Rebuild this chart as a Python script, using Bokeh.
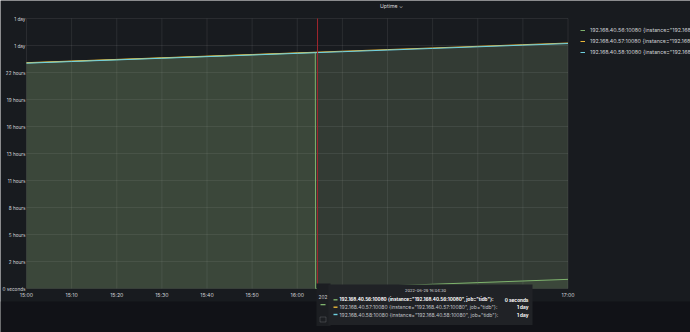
from datetime import datetime
from bokeh.plotting import figure
from bokeh.models import (Range1d, FixedTicker, BoxAnnotation, Label,
                          Legend, LegendItem, ColumnDataSource)
from bokeh.embed import file_html
from bokeh.resources import INLINE

# ---------------- data ----------------
times_full = ["15:00:00", "15:10:00", "15:20:00", "15:30:00", "15:40:00", "15:50:00",
              "16:00:00", "16:10:00", "16:20:00", "16:30:00", "16:40:00", "16:50:00", "17:00:00"]
times_56 = ["15:00:00", "15:10:00", "15:20:00", "15:30:00", "15:40:00", "15:50:00",
            "16:00:00", "16:04:00", "16:04:05", "16:10:00", "16:20:00", "16:30:00",
            "16:40:00", "16:50:00", "17:00:00"]
uptime_56 = [82700, 83300, 83900, 84500, 85100, 85700, 86300, 86540, 0,
             355, 955, 1555, 2155, 2755, 3355]
uptime_57 = [82800, 83400, 84000, 84600, 85200, 85800, 86400, 87000, 87600,
             88200, 88800, 89400, 90000]
uptime_58 = [82620, 83220, 83820, 84420, 85020, 85620, 86220, 86820, 87420,
             88020, 88620, 89220, 89820]

series_names = [
    '192.168.40.56:10080 {instance="192.168.40.56:10080", job="tidb"}',
    '192.168.40.57:10080 {instance="192.168.40.57:10080", job="tidb"}',
    '192.168.40.58:10080 {instance="192.168.40.58:10080", job="tidb"}',
]
series_colors = ["#7EB26D", "#EAB839", "#6ED0E0"]

y_tick_values = [0, 9900, 19800, 29700, 39600, 49500, 59400, 69300, 79200, 89100, 99000]
y_tick_labels = ["0 seconds", "2 hours", "5 hours", "8 hours", "11 hours", "13 hours",
                 "16 hours", "19 hours", "22 hours", "1 day", "1 day"]
x_tick_times = ["15:00:00", "15:10:00", "15:20:00", "15:30:00", "15:40:00", "15:50:00",
                "16:00:00", "16:10:00", "16:20:00", "16:30:00", "16:40:00", "16:50:00", "17:00:00"]
x_tick_labels = ["15:00", "15:10", "15:20", "15:30", "15:40", "15:50", "16:00",
                 "16:10", "16:20", "16:30", "16:40", "16:50", "17:00"]

hover_time = "16:04:30"
tooltip_title = "2022-06-29 16:04:30"
tooltip_values = ["0 seconds", "1 day", "1 day"]
panel_title = "Uptime \u2304"

EPOCH = datetime(1970, 1, 1)


def ms(t):
    d = datetime.strptime("2022-06-29 " + t, "%Y-%m-%d %H:%M:%S")
    return (d - EPOCH).total_seconds() * 1000.0


# ---------------- layout (pixels of the 690x332 panel) ----------------
W, H = 690, 332
PX_LEFT, PX_RIGHT = 26, 567.5      # where 15:00 and 17:00 sit
PX_TOP, PX_BOTTOM = 18, 288        # where the top and bottom y ticks sit

x0, x1 = ms(x_tick_times[0]), ms(x_tick_times[-1])
y0, y1 = y_tick_values[0], y_tick_values[-1]
xpp = (x1 - x0) / (PX_RIGHT - PX_LEFT)
ypp = (y1 - y0) / (PX_BOTTOM - PX_TOP)

PANEL = "#181b1f"
PAGE = "#111217"
TEXT = "#d2d3d8"
FONT = "Inter"

p = figure(width=W, height=H, x_axis_type="datetime",
           output_backend="svg", toolbar_location=None,
           x_range=Range1d(x0 - PX_LEFT * xpp, x1 + (W - PX_RIGHT) * xpp),
           y_range=Range1d(y0 - (H - PX_BOTTOM) * ypp, y1 + PX_TOP * ypp),
           min_border=0)
p.title.visible = False
p.background_fill_color = PANEL
p.border_fill_color = PANEL
p.outline_line_color = None
p.xgrid.visible = False
p.ygrid.visible = False

# axes pinned to the data edges
p.xaxis.fixed_location = y0
p.yaxis.fixed_location = x0
p.xaxis.ticker = FixedTicker(ticks=[ms(t) for t in x_tick_times])
p.xaxis.major_label_overrides = {ms(t): l for t, l in zip(x_tick_times, x_tick_labels)}
p.yaxis.ticker = FixedTicker(ticks=y_tick_values)
p.yaxis.major_label_overrides = {v: l for v, l in zip(y_tick_values, y_tick_labels)}
for ax in (p.xaxis[0], p.yaxis[0]):
    ax.axis_line_color = None
    ax.major_tick_line_color = None
    ax.minor_tick_line_color = None
    ax.major_tick_out = 0
    ax.major_tick_in = 0
    ax.minor_tick_out = 0
    ax.major_label_text_color = TEXT
    ax.major_label_text_font = FONT
p.xaxis.major_label_text_font_size = "5.2px"
p.yaxis.major_label_text_font_size = "4.7px"
p.xaxis.major_label_standoff = 3
p.yaxis.major_label_standoff = 1

# grid lines within the data area
gx = [ms(t) for t in x_tick_times]
p.segment(x0=gx, x1=gx, y0=[y0] * len(gx), y1=[y1] * len(gx),
          line_color="#ffffff", line_alpha=0.08, line_width=1)
p.segment(x0=[x0] * len(y_tick_values), x1=[x1] * len(y_tick_values),
          y0=y_tick_values, y1=y_tick_values,
          line_color="#ffffff", line_alpha=0.08, line_width=1)

# series
sources = [
    ColumnDataSource(dict(x=[ms(t) for t in times_56], y=uptime_56, z=[0] * len(uptime_56))),
    ColumnDataSource(dict(x=[ms(t) for t in times_full], y=uptime_57, z=[0] * len(uptime_57))),
    ColumnDataSource(dict(x=[ms(t) for t in times_full], y=uptime_58, z=[0] * len(uptime_58))),
]
for src, col in zip(sources, series_colors):
    p.varea(x="x", y1="z", y2="y", source=src, fill_color=col, fill_alpha=0.1)
line_renderers = []
for src, col in zip(sources, series_colors):
    line_renderers.append(p.line(x="x", y="y", source=src, line_color=col, line_width=1))

# hover crosshair
p.segment(x0=[ms(hover_time)], x1=[ms(hover_time)], y0=[y0], y1=[y1],
          line_color="#a3262e", line_width=1)

# legend (right side)
legend = Legend(items=[LegendItem(label=n, renderers=[r]) for n, r in zip(series_names, line_renderers)],
                location=(580, 277), orientation="vertical",
                background_fill_alpha=0, border_line_color=None,
                padding=0, margin=0, spacing=5,
                glyph_width=5, glyph_height=6, label_height=6, label_standoff=5,
                label_text_font=FONT, label_text_font_size="5.3px", label_text_color=TEXT)
p.add_layout(legend, "center")

# panel title
p.add_layout(Label(x=391, y=5, x_units="canvas", y_units="canvas", text=panel_title,
                   text_align="center", text_baseline="middle", text_font=FONT,
                   text_font_size="5.2px", text_color="#d8d9da"))

# page background below the panel
p.add_layout(BoxAnnotation(left=0, right=W, top=301, bottom=H,
                           left_units="canvas", right_units="canvas",
                           top_units="canvas", bottom_units="canvas",
                           fill_color=PAGE, fill_alpha=1, line_color=None))

# tooltip of the hovered time
p.add_layout(BoxAnnotation(left=316, right=330, top=283, bottom=325.5,
                           left_units="canvas", right_units="canvas",
                           top_units="canvas", bottom_units="canvas",
                           fill_color="#1c1e22", fill_alpha=1, line_color=None))
p.add_layout(Label(x=318, y=296, x_units="canvas", y_units="canvas", text="202",
                   text_baseline="middle", text_font=FONT, text_font_size="4.8px",
                   text_color="#c7c9ce"))
p.add_layout(BoxAnnotation(left=320, right=325, top=303.5, bottom=304.8,
                           left_units="canvas", right_units="canvas",
                           top_units="canvas", bottom_units="canvas",
                           fill_color=series_colors[0], fill_alpha=1, line_color=None))
p.add_layout(BoxAnnotation(left=319.5, right=325.5, top=316.5, bottom=321.5,
                           left_units="canvas", right_units="canvas",
                           top_units="canvas", bottom_units="canvas",
                           fill_alpha=0, line_color="#8e9096", line_width=1))

p.add_layout(BoxAnnotation(left=328, right=532, top=284, bottom=324.5,
                           left_units="canvas", right_units="canvas",
                           top_units="canvas", bottom_units="canvas",
                           fill_color="#202226", fill_alpha=1, line_color=None))
p.add_layout(Label(x=425, y=290, x_units="canvas", y_units="canvas", text=tooltip_title,
                   text_align="center", text_baseline="middle", text_font=FONT,
                   text_font_size="4.0px", text_color="#d8d9da"))
row_y = [299.3, 306.7, 314]
row_fs = ["4.55px", "5.0px", "5.0px"]
for i, (n, col, v, yy, fs) in enumerate(zip(series_names, series_colors, tooltip_values, row_y, row_fs)):
    p.add_layout(BoxAnnotation(left=333, right=337, top=yy - 0.7, bottom=yy + 0.7,
                               left_units="canvas", right_units="canvas",
                               top_units="canvas", bottom_units="canvas",
                               fill_color=col, fill_alpha=1, line_color=None))
    p.add_layout(Label(x=339, y=yy, x_units="canvas", y_units="canvas", text=n + ":",
                       text_baseline="middle", text_font=FONT, text_font_size=fs,
                       text_font_style="bold" if i == 0 else "normal",
                       text_color="#ffffff" if i == 0 else "#c0c2c8"))
    p.add_layout(Label(x=528, y=yy, x_units="canvas", y_units="canvas", text=v,
                       text_align="right", text_baseline="middle", text_font=FONT,
                       text_font_size="4.7px", text_font_style="bold", text_color="#ffffff"))

open("out.html", "w").write(file_html(p, INLINE))
